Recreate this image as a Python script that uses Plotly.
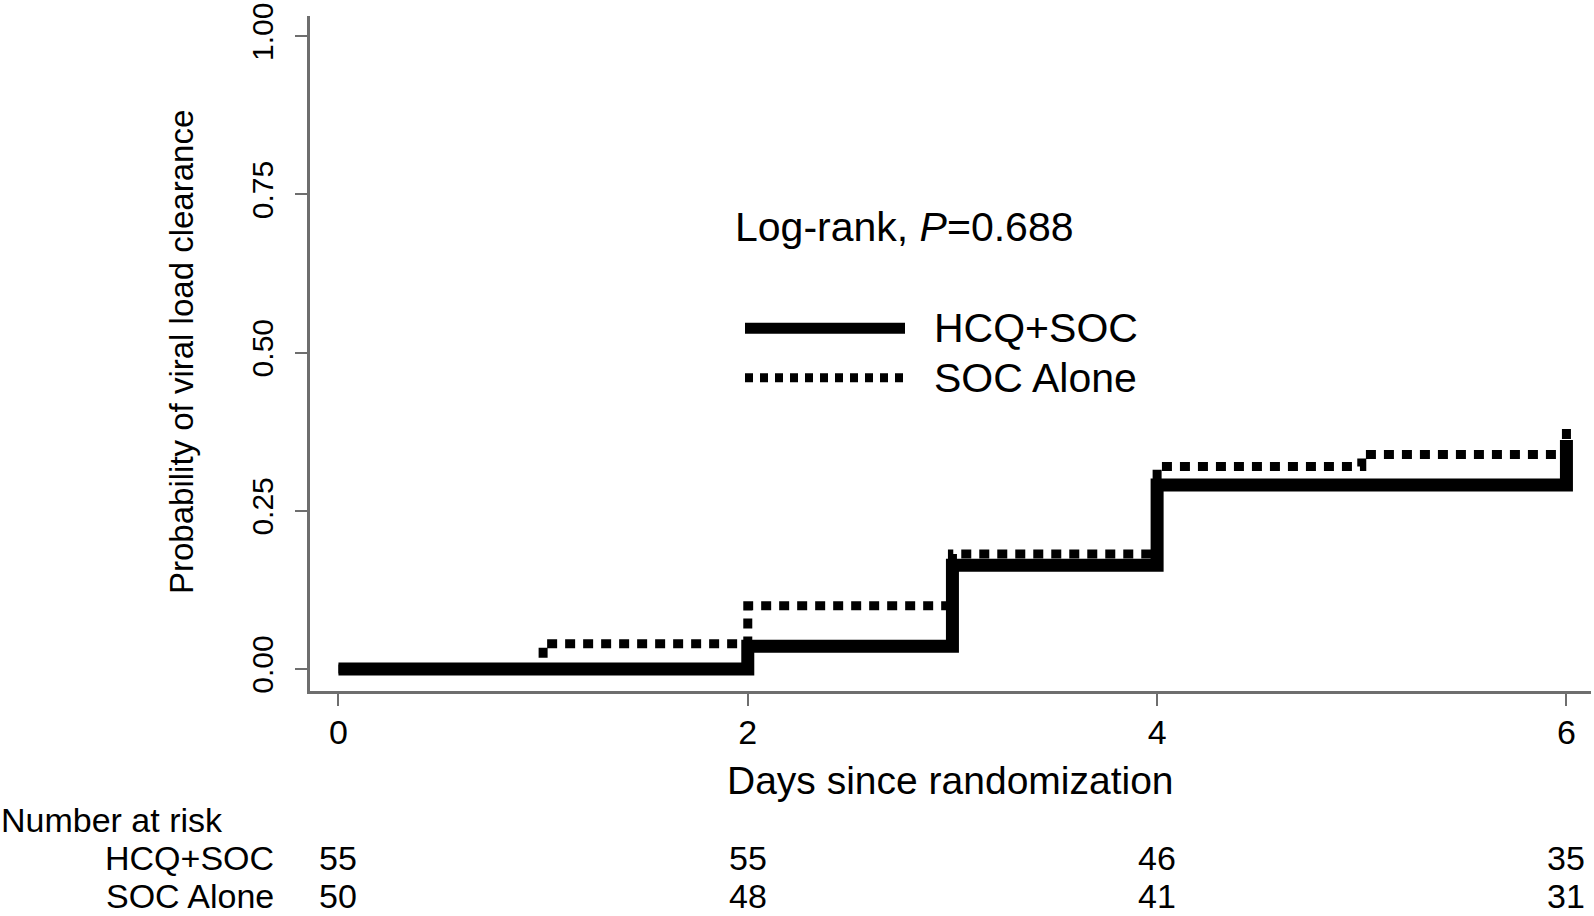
import plotly.graph_objects as go

# ---- data ----
days_hcq = [0, 2, 3, 4, 6]
prob_hcq = [0.0, 0.036, 0.164, 0.291, 0.362]
days_soc = [0, 1, 2, 3, 4, 5, 6]
prob_soc = [0.0, 0.040, 0.100, 0.182, 0.320, 0.339, 0.380]
x_ticks = [0, 2, 4, 6]
y_ticks = [0, 0.25, 0.5, 0.75, 1.0]
risk_days = [0, 2, 4, 6]
risk_hcq = [55, 55, 46, 35]
risk_soc = [50, 48, 41, 31]
group_names = ["HCQ+SOC", "SOC Alone"]

FONT = "Liberation Sans, Arial, Helvetica, sans-serif"
W, H = 1594, 916
L, R, T, B = 310, 3, 12, 225
PW, PH = W - L - R, H - T - B

def px_x(px):
    return (px - L) / PW

def px_y(py):
    return (H - B - py) / PH

fig = go.Figure()
fig.add_trace(go.Scatter(x=days_soc, y=prob_soc, mode="lines", line_shape="hv",
                         line=dict(color="black", width=9, dash="10px,8px"),
                         name=group_names[1], showlegend=False, hoverinfo="skip"))
fig.add_trace(go.Scatter(x=days_hcq, y=prob_hcq, mode="lines", line_shape="hv",
                         line=dict(color="black", width=13),
                         name=group_names[0], showlegend=False, hoverinfo="skip"))

annotations = []
# Log-rank text
annotations.append(dict(x=px_x(734), y=px_y(224), xref="paper", yref="paper",
                        xanchor="left", yanchor="middle", showarrow=False, borderpad=0,
                        text="Log-rank, <i>P</i>=0.688",
                        font=dict(family=FONT, size=41, color="black")))
# Legend labels
for name, py in zip(group_names, [326, 376]):
    annotations.append(dict(x=px_x(933), y=px_y(py), xref="paper", yref="paper",
                            xanchor="left", yanchor="middle", showarrow=False, borderpad=0,
                            text=name, font=dict(family=FONT, size=41, color="black")))
# Axis titles
annotations.append(dict(x=px_x(181), y=px_y(350), xref="paper", yref="paper",
                        xanchor="center", yanchor="middle", showarrow=False, textangle=-90,
                        borderpad=0, text="Probability of viral load clearance",
                        font=dict(family=FONT, size=33, color="black")))
annotations.append(dict(x=px_x(950), y=px_y(781), xref="paper", yref="paper",
                        xanchor="center", yanchor="middle", showarrow=False, borderpad=0,
                        text="Days since randomization",
                        font=dict(family=FONT, size=39, color="black")))
# Number at risk table
TABLE_SIZE = 34
annotations.append(dict(x=px_x(0), y=px_y(821), xref="paper", yref="paper",
                        xanchor="left", yanchor="middle", showarrow=False, borderpad=0,
                        text="Number at risk", font=dict(family=FONT, size=TABLE_SIZE, color="black")))
for name, vals, py in zip(group_names, [risk_hcq, risk_soc], [859, 897]):
    annotations.append(dict(x=px_x(275), y=px_y(py), xref="paper", yref="paper",
                            xanchor="right", yanchor="middle", showarrow=False, borderpad=0,
                            text=name, font=dict(family=FONT, size=TABLE_SIZE, color="black")))
    for d, v in zip(risk_days, vals):
        annotations.append(dict(x=d, y=px_y(py), xref="x", yref="paper",
                                xanchor="center", yanchor="middle", showarrow=False, borderpad=0,
                                text=str(v), font=dict(family=FONT, size=TABLE_SIZE, color="black")))

shapes = [
    dict(type="line", xref="paper", yref="paper", x0=px_x(745), x1=px_x(905),
         y0=px_y(326), y1=px_y(326), line=dict(color="black", width=11)),
    dict(type="line", xref="paper", yref="paper", x0=px_x(745), x1=px_x(905),
         y0=px_y(376), y1=px_y(376), line=dict(color="black", width=9, dash="8px,7px")),
]

fig.update_layout(
    width=W, height=H,
    margin=dict(l=L, r=R, t=T, b=B, pad=0),
    paper_bgcolor="white", plot_bgcolor="white",
    showlegend=False,
    annotations=annotations,
    shapes=shapes,
    font=dict(family=FONT, color="black"),
)
fig.update_xaxes(range=[-0.139, 6.12], tickvals=x_ticks, ticktext=[str(v) for v in x_ticks],
                 showgrid=False, zeroline=False, showline=True, linecolor="#6e6e6e", linewidth=3,
                 ticks="outside", ticklen=12, tickwidth=2, tickcolor="#6e6e6e",
                 tickfont=dict(family=FONT, size=34, color="black"), ticklabelstandoff=-3)
fig.update_yaxes(range=[-0.0346, 1.032], tickvals=y_ticks, tickformat=".2f",
                 showgrid=False, zeroline=False, showline=True, linecolor="#6e6e6e", linewidth=3,
                 ticks="outside", ticklen=12, tickwidth=2, tickcolor="#6e6e6e", tickangle=-90,
                 ticklabeloverflow="allow",
                 tickfont=dict(family=FONT, size=30, color="black"), ticklabelstandoff=10)

fig.write_html("out.html", config={"displayModeBar": False},
               post_script="document.body.style.margin='0';document.body.style.overflow='hidden';")
